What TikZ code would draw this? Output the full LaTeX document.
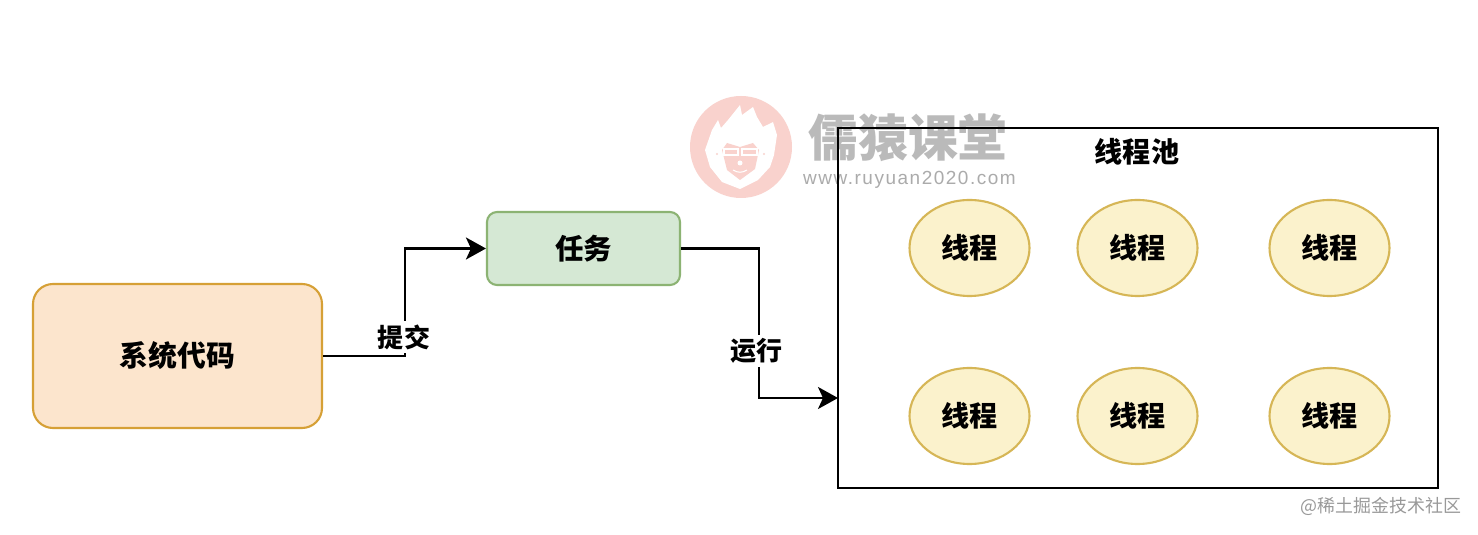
\documentclass[tikz,border=0pt]{standalone}
\usepackage{fontspec}
\newfontfamily\cjk{Noto Sans CJK SC}
\newfontfamily\wwwfont[LetterSpace=8]{Liberation Sans}
\usetikzlibrary{arrows.meta,positioning,shapes.geometric}
\definecolor{orangefill}{HTML}{FCE5CD}
\definecolor{orangeline}{HTML}{D6A036}
\definecolor{greenfill}{HTML}{D5E8D4}
\definecolor{greenline}{HTML}{8CB373}
\definecolor{threadfill}{HTML}{FBF2CC}
\definecolor{threadline}{HTML}{D6B656}
\definecolor{logopink}{HTML}{F9D2CD}
\tikzset{
  label text/.style={font=\cjk\bfseries\fontsize{8}{10}\selectfont, text=black, inner sep=1pt},
  edge text/.style={font=\cjk\bfseries\fontsize{7.4}{9}\selectfont, text=black, fill=white, inner sep=1pt},
  thread/.style={ellipse, draw=threadline, fill=threadfill, line width=0.6pt,
    minimum width=1.2cm, minimum height=0.96cm, inner sep=0pt, label text},
  flow/.style={line width=0.6pt, -{Stealth[length=2mm,width=2.2mm,inset=0.5mm]}}
}
\begin{document}
\begin{tikzpicture}
  \useasboundingbox (0,0) rectangle (14.78,5.34);
  \fill[white] (0,0) rectangle (14.78,5.34);
  % watermark
  \fill[logopink] (7.41,3.87) circle (0.51);
  \fill[white] (7.05,3.84) -- (7.12,4.04) -- (7.18,4.14) -- (7.21,4.06) -- (7.28,4.14) -- (7.40,4.29) -- (7.42,4.19)
    -- (7.53,4.27) -- (7.57,4.17) -- (7.63,4.07) -- (7.73,4.12) -- (7.77,3.99) -- (7.74,3.79) -- (7.70,3.67)
    -- (7.58,3.54) -- (7.40,3.45) -- (7.22,3.52) -- (7.10,3.67) -- cycle;
  \fill[logopink] (7.27,3.91) -- (7.40,3.87) -- (7.53,3.91) -- (7.59,3.84) -- (7.55,3.65) -- (7.40,3.54)
    -- (7.27,3.64) -- (7.22,3.84) -- cycle;
  \draw[white, line width=0.3pt] (7.24,3.79) rectangle (7.38,3.85);
  \draw[white, line width=0.3pt] (7.42,3.79) rectangle (7.57,3.85);
  \fill[white] (7.40,3.71) circle (0.025);
  \draw[white, line width=0.3pt] (7.33,3.64) .. controls (7.38,3.61) and (7.42,3.61) .. (7.47,3.64);
  \fill[logopink] (7.17,3.80) circle (0.012);
  \fill[logopink] (7.64,3.80) circle (0.012);
  \node[inner sep=0pt, text=black!27, font=\cjk\bfseries\fontsize{14.2}{16}\selectfont] (brand) at (9.08,3.96) {儒猿课堂};
  \node[inner sep=0pt, text=black!33, font=\wwwfont\fontsize{5.4}{6}\selectfont] (site) at (9.095,3.54) {www.ruyuan2020.com};
  % thread pool
  \node[draw=black, line width=0.6pt, minimum width=6cm, minimum height=3.6cm, inner sep=0pt] (pool) at (11.38,2.26) {};
  \node[label text] (poolname) at (11.37,3.82) {线程池};
  \foreach \n/\x/\y in {a/9.695/2.86,b/11.375/2.86,c/13.295/2.86,d/9.695/1.18,e/11.375/1.18,f/13.295/1.18}
    \node[thread] (\n) at (\x,\y) {线程};
  % left boxes
  \node[draw=orangeline, fill=orangefill, line width=0.6pt, rounded corners=0.2cm, minimum width=2.89cm,
    minimum height=1.44cm, label text, font=\cjk\bfseries\fontsize{8.2}{10}\selectfont] (code) at (1.775,1.78) {系统代码};
  \node[draw=greenline, fill=greenfill, line width=0.6pt, rounded corners=0.1cm, minimum width=1.93cm,
    minimum height=0.73cm, label text, font=\cjk\bfseries\fontsize{8.1}{10}\selectfont] (task) at (5.835,2.855) {任务};
  \coordinate (poolin) at (8.38,1.36);
  \draw[flow] (code.east) -- ++(0.815,0) |- (task.west);
  \draw[flow] (task.east) -- ++(0.78,0) |- (poolin);
  \node[edge text] (submit) at (4.04,1.97) {提交};
  \node[edge text] (run) at (7.56,1.83) {运行};
  % corner mark
  \node[inner sep=0pt, text=black!40, font=\cjk\fontsize{5.1}{6}\selectfont] (corner) at (13.81,0.28) {@稀土掘金技术社区};
\end{tikzpicture}
\end{document}
